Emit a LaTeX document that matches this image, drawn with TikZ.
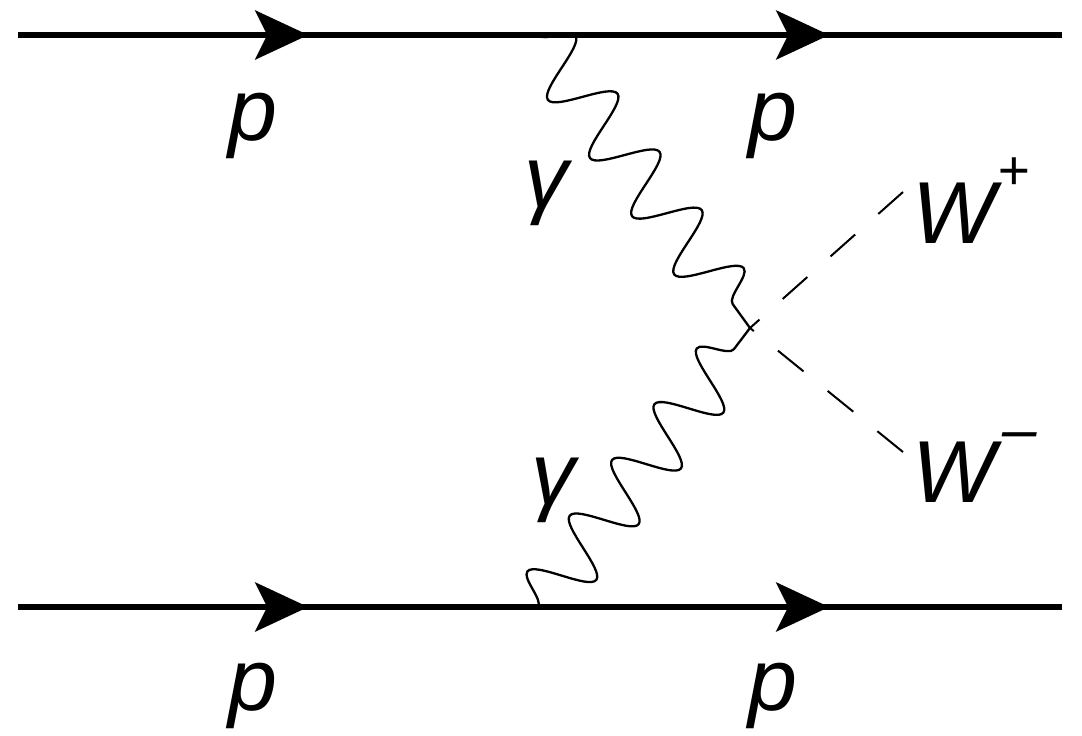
\documentclass[tikz,border=0pt]{standalone}
\usepackage{fontspec}
\setmainfont{Liberation Sans}
\usetikzlibrary{arrows.meta, decorations.markings, decorations.pathmorphing}
\tikzset{
    x=1pt, y=-1pt, % One unit per pixel of the reference, y pointing down
    every node/.style={ % Sets the properties for each label
        inner sep=0pt,
        anchor=base,
        font=\fontsize{88}{100}\selectfont\itshape
    },
    proton/.style={ % Proton lines with two arrows on them
        line width=6pt,
        postaction={decorate},
        decoration={markings,
            mark=at position 0.278 with {\arrow{Stealth[length=53pt, width=49pt, inset=12pt]}},
            mark=at position 0.777 with {\arrow{Stealth[length=53pt, width=49pt, inset=12pt]}}}
    },
    photon/.style={ % Wavy photon lines
        line width=2.3pt,
        decorate,
        decoration={snake, amplitude=30pt, segment length=#1}
    },
    wboson/.style={ % Dashed W lines
        line width=2pt,
        dash pattern=on 33pt off 31pt
    }
}
\begin{document}
\begin{tikzpicture}
    \useasboundingbox (0,0) rectangle (1082,736);
    \coordinate (in1) at (18,35);
    \coordinate (out1) at (1062,35);
    \coordinate (in2) at (18,607);
    \coordinate (out2) at (1062,607);
    \coordinate (g1) at (538,35);
    \coordinate (g2) at (538,607);
    \coordinate (v) at (750,328);
    \coordinate (wp) at (903,192);
    \coordinate (wm) at (903,452);
    \draw[proton] (in1) -- (out1);
    \draw[proton] (in2) -- (out2);
    \draw[photon=71.8pt] (g1) -- (v);
    \draw[photon=70pt] (g2) -- (v);
    \draw[wboson] (wp) -- (v);
    \draw[wboson] (wm) -- (v);
    \node (p1) at (253,140) {p};
    \node (p2) at (773,140) {p};
    \node (p3) at (253,710) {p};
    \node (p4) at (773,710) {p};
    \node (ga1) at (546,207) {γ};
    \node (ga2) at (553,504) {γ};
    \node[anchor=base west] (wplus) at (912,243) {W\kern2pt\raisebox{54pt}{\fontsize{55}{60}\selectfont +}};
    \node[anchor=base west] (wminus) at (912,502) {W\kern7pt\raisebox{52pt}{\fontsize{62}{60}\selectfont –}};
\end{tikzpicture}
\end{document}
